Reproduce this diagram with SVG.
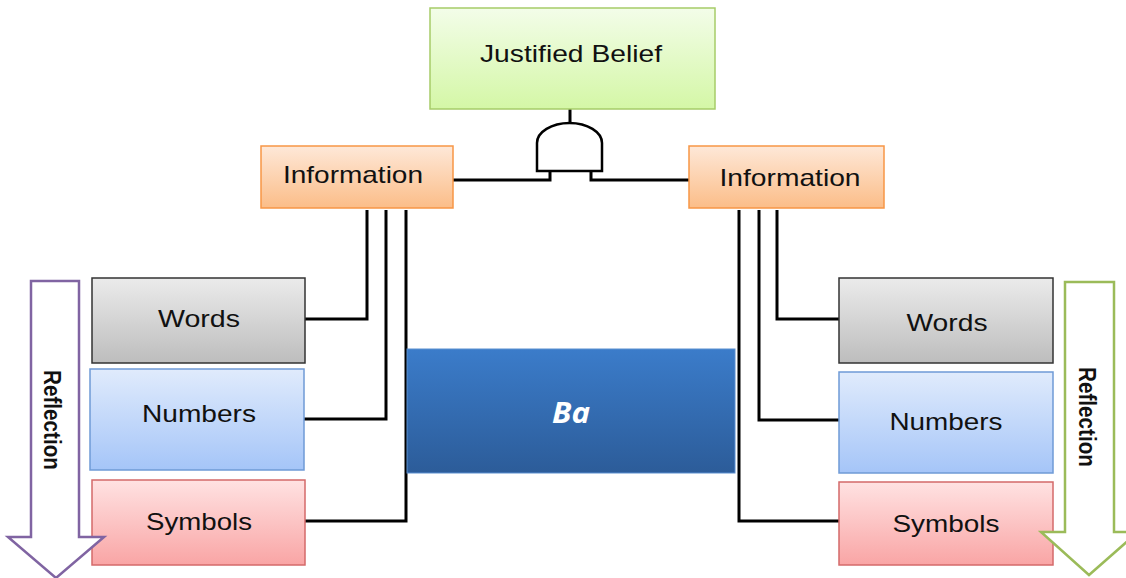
<svg xmlns="http://www.w3.org/2000/svg" width="1126" height="578" viewBox="0 0 1126 578">
<defs>
<linearGradient id="gGreen" x1="0" y1="0" x2="0" y2="1"><stop offset="0" stop-color="#f3fde9"/><stop offset="1" stop-color="#d4f7a6"/></linearGradient>
<linearGradient id="gOrange" x1="0" y1="0" x2="0" y2="1"><stop offset="0" stop-color="#fee8d8"/><stop offset="1" stop-color="#fbbd88"/></linearGradient>
<linearGradient id="gGray" x1="0" y1="0" x2="0" y2="1"><stop offset="0" stop-color="#ebebeb"/><stop offset="1" stop-color="#bdbdbd"/></linearGradient>
<linearGradient id="gBlue" x1="0" y1="0" x2="0" y2="1"><stop offset="0" stop-color="#e0ebfc"/><stop offset="1" stop-color="#a5c5f8"/></linearGradient>
<linearGradient id="gPink" x1="0" y1="0" x2="0" y2="1"><stop offset="0" stop-color="#ffe2e2"/><stop offset="1" stop-color="#f9a5a5"/></linearGradient>
<linearGradient id="gBa" x1="0" y1="0" x2="0" y2="1"><stop offset="0" stop-color="#3b7cca"/><stop offset="1" stop-color="#2c5c99"/></linearGradient>
</defs>
<style>
.lbl{font-family:"Liberation Sans",Arial,sans-serif;font-size:24px;fill:#111;text-anchor:middle}
.refl{font-family:"Liberation Sans",Arial,sans-serif;font-size:20px;font-weight:bold;fill:#111}
.wire{fill:none;stroke:#000;stroke-width:3}
</style>
<g id="connectors">
<path class="wire" d="M570,109 V123"/>
<path class="wire" d="M453,180 H550 V171"/>
<path class="wire" d="M689,180 H591 V171"/>
<path class="wire" d="M367,210 V319 H305"/>
<path class="wire" d="M386,210 V419 H304"/>
<path class="wire" d="M406,210 V521 H305"/>
<path class="wire" d="M777,210 V319 H839"/>
<path class="wire" d="M759,210 V420 H839"/>
<path class="wire" d="M739,210 V521 H839"/>
</g>
<g id="and-gate">
<path d="M537,171 V143 A32.5,20 0 0 1 602,143 V171 Z" fill="#fff" stroke="#000" stroke-width="2.5"/>
</g>
<g id="justified-belief">
<rect x="430" y="8" width="285" height="101" fill="url(#gGreen)" stroke="#a6cc68" stroke-width="1.5"/>
<text class="lbl" x="571" y="62" textLength="182" lengthAdjust="spacingAndGlyphs">Justified Belief</text>
</g>
<g id="info-left">
<rect x="261" y="146" width="192" height="62" fill="url(#gOrange)" stroke="#f79646" stroke-width="1.5"/>
<text class="lbl" x="353" y="183" textLength="140" lengthAdjust="spacingAndGlyphs">Information</text>
</g>
<g id="info-right">
<rect x="689" y="146" width="195" height="62" fill="url(#gOrange)" stroke="#f79646" stroke-width="1.5"/>
<text class="lbl" x="790" y="186" textLength="141" lengthAdjust="spacingAndGlyphs">Information</text>
</g>
<g id="words-left">
<rect x="92" y="278" width="213" height="85" fill="url(#gGray)" stroke="#333" stroke-width="1.5"/>
<text class="lbl" x="199" y="327" textLength="82" lengthAdjust="spacingAndGlyphs">Words</text>
</g>
<g id="numbers-left">
<rect x="90" y="369" width="214" height="101" fill="url(#gBlue)" stroke="#6f9ad6" stroke-width="1.5"/>
<text class="lbl" x="199" y="422" textLength="114" lengthAdjust="spacingAndGlyphs">Numbers</text>
</g>
<g id="symbols-left">
<rect x="92" y="480" width="213" height="85" fill="url(#gPink)" stroke="#d46a6a" stroke-width="1.5"/>
<text class="lbl" x="199" y="530" textLength="106" lengthAdjust="spacingAndGlyphs">Symbols</text>
</g>
<g id="words-right">
<rect x="839" y="278" width="214" height="85" fill="url(#gGray)" stroke="#333" stroke-width="1.5"/>
<text class="lbl" x="947" y="331" textLength="81" lengthAdjust="spacingAndGlyphs">Words</text>
</g>
<g id="numbers-right">
<rect x="839" y="372" width="214" height="101" fill="url(#gBlue)" stroke="#6f9ad6" stroke-width="1.5"/>
<text class="lbl" x="946" y="430" textLength="113" lengthAdjust="spacingAndGlyphs">Numbers</text>
</g>
<g id="symbols-right">
<rect x="839" y="482" width="214" height="83" fill="url(#gPink)" stroke="#d46a6a" stroke-width="1.5"/>
<text class="lbl" x="946" y="532" textLength="107" lengthAdjust="spacingAndGlyphs">Symbols</text>
</g>
<g id="ba">
<rect x="407" y="349" width="328" height="124" fill="url(#gBa)" stroke="#5b8fd0" stroke-width="1"/>
<text x="571" y="423" text-anchor="middle" font-family="'Open Sans',sans-serif" font-size="28" font-weight="bold" font-style="italic" fill="#fff" textLength="38" lengthAdjust="spacingAndGlyphs">Ba</text>
</g>
<g id="reflection-left">
<path d="M31,281 H79 V537 H104 L56,578 L8,537 H31 Z" fill="#fff" stroke="#8064a2" stroke-width="2.5" stroke-linejoin="miter"/>
<text class="refl" transform="translate(44,370) rotate(90) scale(1,1.2)" x="0" y="0" textLength="100" lengthAdjust="spacingAndGlyphs">Reflection</text>
</g>
<g id="reflection-right">
<path d="M1065,282 H1114 V532 H1138 L1089,575 L1041,532 H1065 Z" fill="#fff" stroke="#9bbb59" stroke-width="2.5"/>
<text class="refl" transform="translate(1079,367) rotate(90) scale(1,1.2)" x="0" y="0" textLength="100" lengthAdjust="spacingAndGlyphs">Reflection</text>
</g>
</svg>
